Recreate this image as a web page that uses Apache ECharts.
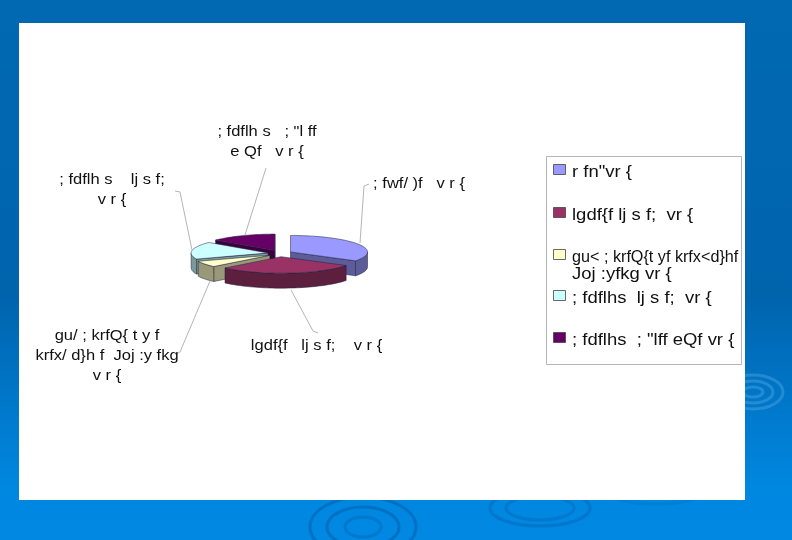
<!DOCTYPE html>
<html><head><meta charset="utf-8">
<style>html,body{margin:0;padding:0;background:#0a6fc0}#c{width:792px;height:540px}</style>
<script src="https://cdn.jsdelivr.net/npm/echarts@6/dist/echarts.min.js"></script>
</head><body><div id="c"></div>
<script>
const categories = ['r fn"vr {', 'lgdf{f lj s f;  vr {', 'gu< ; krfQ{t yf krfx<d}hf\nJoj :yfkg vr {', '; fdflhs  lj s f;  vr {', '; fdflhs  ; "lff eQf vr {'];
const sliceLabels = ['; fwf/ )f   v r {', 'lgdf{f   lj s f;    v r {', 'gu/ ; krfQ{ t y f\nkrfx/ d}h f  Joj :y fkg\nv r {', '; fdflh s    lj s f;\nv r {', '; fdflh s   ; "l ff\ne Qf   v r {'];
const values = [34, 29, 6, 17, 14];
const topColors = ['#9999ff', '#993366', '#ffffcc', '#ccffff', '#660066'];
const sideColors = ['#5c5c99', '#5c1f3d', '#99997a', '#7a9999', '#3d003d'];

const PIE = {cx: 280, cy: 253.5, a: 77, b: 16.5, depth: 15, ex: 12, ey: 3.2};
const total = values.reduce((s, v) => s + v, 0);
const ranges = [];
values.reduce((s, v, i) => { const e = s + v / total * 2 * Math.PI; ranges[i] = [s, e]; return e; }, 0);
const ranks = ranges.map((r, i) => i).sort((p, q) => Math.cos((ranges[q][0] + ranges[q][1]) / 2) - Math.cos((ranges[p][0] + ranges[p][1]) / 2));

function pt(c, t, dz) { return [c[0] + PIE.a * Math.sin(t), c[1] - PIE.b * Math.cos(t) + (dz || 0)]; }
function arc(c, s, e, dz) { const n = Math.max(4, Math.ceil((e - s) * 24)), o = []; for (let i = 0; i <= n; i++) o.push(pt(c, s + (e - s) * i / n, dz)); return o; }
const outline = '#1f1f3a';
function renderSlice(params, api) {
  const i = params.dataIndex, s = ranges[i][0], e = ranges[i][1], m = (s + e) / 2;
  const c = [PIE.cx + PIE.ex * Math.sin(m), PIE.cy - PIE.ey * Math.cos(m)];
  const base = ranks.indexOf(i) * 10;
  const kids = [];
  const below = [c[0], c[1] + PIE.depth];
  const side = (points, k) => ({type: 'polygon', z2: base + k, shape: {points}, style: {fill: sideColors[i], stroke: outline, lineWidth: 0.5}});
  if (Math.sin(s) < 0) kids.push(side([c, pt(c, s), pt(c, s, PIE.depth), below], 1));
  if (Math.sin(e) > 0) kids.push(side([c, pt(c, e), pt(c, e, PIE.depth), below], 2));
  const rs = Math.max(s, Math.PI / 2), re = Math.min(e, 1.5 * Math.PI);
  if (re > rs) kids.push(side(arc(c, rs, re).concat(arc(c, rs, re, PIE.depth).reverse()), 3));
  kids.push({type: 'polygon', z2: base + 4, shape: {points: [c].concat(arc(c, s, e))}, style: {fill: topColors[i], stroke: outline, lineWidth: 0.5}});
  return {type: 'group', children: kids};
}

const leaders = [
  [[360, 243], [364, 186], [369, 184]],
  [[291, 290], [313, 331], [318, 333]],
  [[210, 281], [180, 352], [176, 354]],
  [[192, 250], [180, 192], [175, 191]],
  [[245, 235], [266, 168]]
];
const labelPos = [[419, 175.5, 17], [316.5, 338, 17], [107, 326, 20], [112, 170, 20], [267, 122, 20]];
const legendRows = [170, 213, 255, 296, 338];

const rings = [[363, 527, 53, 30, 'rgba(0,60,130,.3)'], [363, 527, 36, 20, 'rgba(0,60,130,.3)'], [363, 527, 18, 10, 'rgba(0,60,130,.2)'], [540, 508, 50, 18, 'rgba(0,60,130,.22)'], [540, 508, 34, 12, 'rgba(0,60,130,.2)'], [656, 492, 48, 12, 'rgba(0,60,130,.1)'], [753, 392, 30, 17, 'rgba(120,190,240,.3)'], [753, 392, 20, 11, 'rgba(120,190,240,.3)'], [753, 392, 10, 5, 'rgba(120,190,240,.3)']];

const legendLines = [];
categories.forEach((t, i) => t.split('\n').forEach((line, k) => legendLines.push({line, y: legendRows[i] - 6.5 + k * 17, scale: line.length > 22 && k === 0 && i === 2 ? 0.98 : 1.12})));

const graphic = [
  {type: 'rect', z: 0, shape: {x: 0, y: 0, width: 792, height: 540}, style: {fill: new echarts.graphic.LinearGradient(0, 0, 0, 1, [{offset: 0, color: '#0069b2'}, {offset: .55, color: '#0064ad'}, {offset: .9, color: '#0087e0'}, {offset: 1, color: '#0088e2'}])}},
  ...rings.map(r => ({type: 'ellipse', z: 1, shape: {cx: r[0], cy: r[1], rx: r[2], ry: r[3]}, style: {fill: 'none', stroke: r[4], lineWidth: 3}})),
  {type: 'rect', z: 2, shape: {x: 19, y: 23, width: 726, height: 477}, style: {fill: '#fff'}},
  ...leaders.map(p => ({type: 'polyline', z: 3, shape: {points: p}, style: {fill: 'none', stroke: '#b5b5b5', lineWidth: 1}})),
  ...sliceLabels.map((t, i) => ({type: 'text', z: 5, x: labelPos[i][0], y: labelPos[i][1], scaleX: 1.18, style: {text: t, fill: '#111', font: '14px "Liberation Sans"', align: 'center', verticalAlign: 'top', lineHeight: labelPos[i][2]}})),
  {type: 'rect', z: 3, shape: {x: 546.5, y: 156.5, width: 195, height: 208}, style: {fill: '#fff', stroke: '#b5b5b5', lineWidth: 1}},
  ...categories.map((t, i) => ({type: 'rect', z: 5, shape: {x: 553.5, y: legendRows[i] - 5.5, width: 12, height: 10}, style: {fill: topColors[i], stroke: '#444', lineWidth: 0.8}})),
  ...legendLines.map(l => ({type: 'text', z: 5, x: 572, y: l.y, scaleX: l.scale, style: {text: l.line, fill: '#111', font: '16.5px "Liberation Sans"', align: 'left', verticalAlign: 'top'}}))
];

const chart = echarts.init(document.getElementById('c'), null, {renderer: 'canvas'});
chart.setOption({
  animation: false,
  graphic,
  series: [{type: 'custom', z: 4, coordinateSystem: 'none', clip: false, renderItem: renderSlice, data: values.map((v, i) => ({name: categories[i], value: v}))}]
});
</script></body></html>
